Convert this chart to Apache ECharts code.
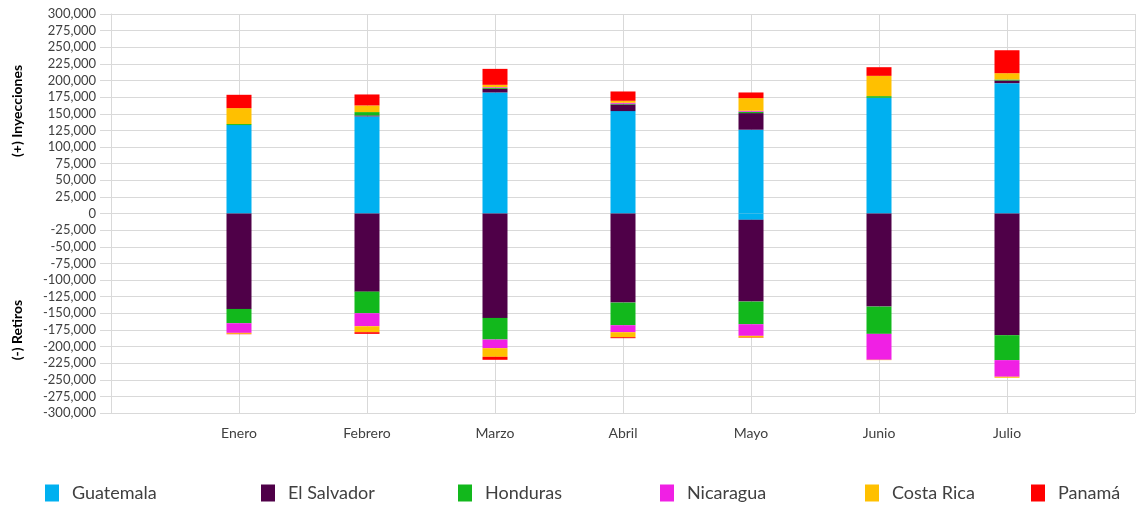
<!DOCTYPE html>
<html>
<head>
<meta charset="utf-8">
<script src="https://cdn.jsdelivr.net/npm/echarts@6/dist/echarts.min.js"></script>
<style>
html,body{margin:0;padding:0;background:#fff;}
#chart{width:1138px;height:510px;}
</style>
</head>
<body>
<div id="chart"></div>
<script>
const months = ['Enero', 'Febrero', 'Marzo', 'Abril', 'Mayo', 'Junio', 'Julio'];
const countries = ['Guatemala', 'El Salvador', 'Honduras', 'Nicaragua', 'Costa Rica', 'Panamá'];
const colors = ['#00B0F0', '#4F0048', '#12B81C', '#F020E4', '#FFC000', '#FF0000'];

// (+) Inyecciones
const injGuatemala  = [133000, 146000, 182000, 154000, 126000, 174000, 196000];
const injElSalvador = [0, 1500, 5500, 10000, 25000, 0, 4000];
const injHonduras   = [1500, 5000, 1500, 1000, 2000, 2500, 1500];
const injNicaragua  = [0, 0, 1000, 1500, 1500, 0, 0];
const injCostaRica  = [24000, 10000, 3500, 3000, 19000, 30500, 9500];
const injPanama     = [20000, 16500, 24000, 14000, 8500, 13000, 34500];

// (-) Retiros
const retGuatemala  = [0, 0, 0, 0, -9500, 0, 0];
const retElSalvador = [-143500, -117500, -157000, -134000, -123000, -140000, -183000];
const retHonduras   = [-21500, -32500, -32500, -34000, -34000, -41000, -37500];
const retNicaragua  = [-14500, -19500, -13000, -10500, -17500, -39000, -25000];
const retCostaRica  = [-1500, -9000, -13000, -7500, -2500, -500, -1500];
const retPanama     = [-500, -2500, -4500, -1500, -500, 0, 0];

const yTicks = { min: -300000, max: 300000, interval: 25000 };

const injections = [injGuatemala, injElSalvador, injHonduras, injNicaragua, injCostaRica, injPanama];
const withdrawals = [retGuatemala, retElSalvador, retHonduras, retNicaragua, retCostaRica, retPanama];

const cats = [''].concat(months).concat(['']);
const pad = arr => [null].concat(arr).concat([null]);

const FONT = 'Lato';
const gridColor = '#d9d9d9';

const series = [];
countries.forEach((c, i) => {
  [injections[i], withdrawals[i]].forEach(d => {
    series.push({
      name: c,
      type: 'bar',
      stack: 'total',
      barWidth: 25,
      itemStyle: { color: colors[i] },
      data: pad(d)
    });
  });
});

const legendLeft = [40, 256, 453, 655, 860, 1026];
const legends = countries.map((c, i) => ({
  data: [c],
  left: legendLeft[i],
  top: 479,
  icon: 'rect',
  itemWidth: 14,
  itemHeight: 17,
  itemGap: 0,
  selectedMode: false,
  textStyle: { fontFamily: FONT, fontSize: 18, color: '#404040', padding: [0, 0, 0, 8] }
}));

const chart = echarts.init(document.getElementById('chart'), null, { renderer: 'canvas' });
chart.setOption({
  animation: false,
  backgroundColor: '#fff',
  grid: { left: 111, right: 0, top: 14, height: 399 },
  legend: legends,
  xAxis: {
    type: 'category',
    data: cats,
    boundaryGap: false,
    axisLine: { show: true, lineStyle: { color: gridColor } },
    axisTick: { show: true, length: 5, lineStyle: { color: gridColor } },
    splitLine: { show: true, lineStyle: { color: gridColor } },
    axisLabel: { fontFamily: FONT, fontSize: 14, color: '#404040', margin: 13, interval: 0 }
  },
  yAxis: {
    type: 'value',
    min: yTicks.min,
    max: yTicks.max,
    interval: yTicks.interval,
    axisLine: { show: true, lineStyle: { color: gridColor } },
    axisTick: { show: true, length: 11, lineStyle: { color: gridColor } },
    splitLine: { show: true, lineStyle: { color: gridColor } },
    axisLabel: {
      fontFamily: FONT, fontSize: 13, color: '#404040', margin: 15,
      formatter: v => v.toLocaleString('en-US')
    }
  },
  graphic: [
    { type: 'text', x: 17, y: 111, rotation: Math.PI / 2,
      style: { text: '(+) Inyecciones', fontFamily: FONT, fontSize: 14, fontWeight: 'bold', fill: '#000', align: 'center', verticalAlign: 'middle' } },
    { type: 'text', x: 17, y: 330, rotation: Math.PI / 2,
      style: { text: '(-) Retiros', fontFamily: FONT, fontSize: 14, fontWeight: 'bold', fill: '#000', align: 'center', verticalAlign: 'middle' } }
  ],
  series: series
});
</script>
</body>
</html>
